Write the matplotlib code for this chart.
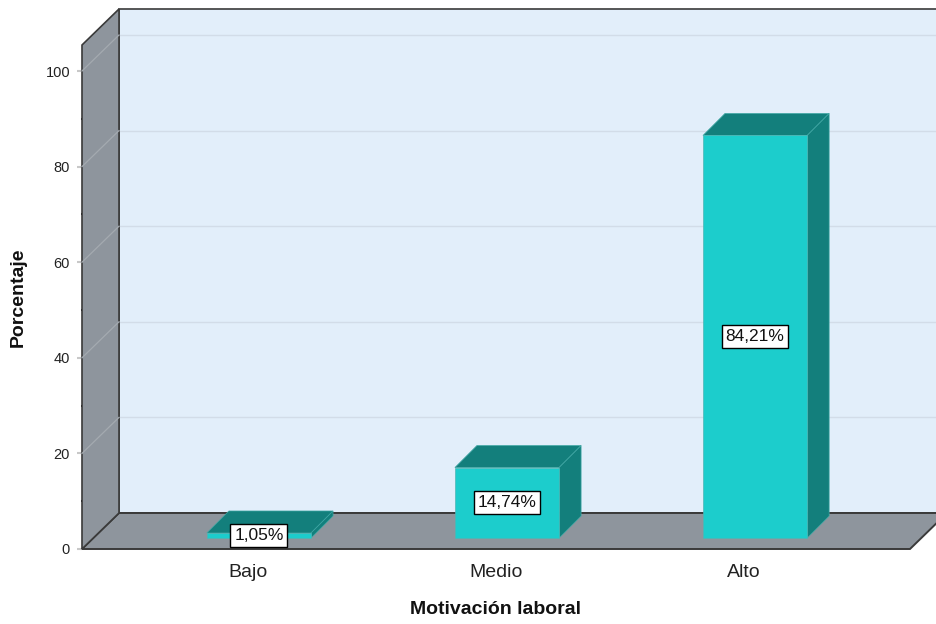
import matplotlib
matplotlib.use("Agg")
import matplotlib.pyplot as plt
from matplotlib.patches import Polygon

plt.rcParams["font.family"] = ["Liberation Sans", "DejaVu Sans"]

categories = ["Bajo", "Medio", "Alto"]
percentages = [1.05, 14.74, 84.21]
value_labels = ["1,05%", "14,74%", "84,21%"]
y_ticks = [0, 20, 40, 60, 80, 100]
minor_ticks = [10, 30, 50, 70, 90]

FRONT = "#1ccdcc"
DARK = "#137f7c"
WALL = "#8e959d"
BACK = "#e2eefa"
EDGE = "#3a3a3a"

W, H, DPI = 937, 624, 100
fig = plt.figure(figsize=(W / DPI, H / DPI), dpi=DPI)

# front plane of the box, in pixels
ax_left, ax_right, ax_bottom, ax_top = 82, 910, 549, 45
ax = fig.add_axes([ax_left / W, (H - ax_bottom) / H,
                   (ax_right - ax_left) / W, (ax_bottom - ax_top) / H])
xmin, xmax = -0.669, 2.669
ymax = 105.44
ax.set_xlim(xmin, xmax)
ax.set_ylim(0, ymax)
for s in ax.spines.values():
    s.set_visible(False)
ax.patch.set_visible(False)

# pixel -> data scale, for the oblique depth
px = (xmax - xmin) / (ax_right - ax_left)
py = ymax / (ax_bottom - ax_top)
depth_x, depth_y = 37 * px, 36 * py


def poly(pts, fc, ec=EDGE, lw=1.0, z=1):
    ax.add_patch(Polygon(pts, closed=True, facecolor=fc, edgecolor=ec,
                         linewidth=lw, zorder=z, clip_on=False))


# back wall
bx0, bx1 = xmin + depth_x, xmax + depth_x
poly([(bx0, depth_y), (bx1, depth_y), (bx1, ymax + depth_y), (bx0, ymax + depth_y)],
     BACK, lw=1.2, z=1)
for v in y_ticks[1:]:
    ax.plot([bx0, bx1], [v + depth_y] * 2, color="#d2dce8", lw=1.0, zorder=2,
            clip_on=False)

# floor and left wall
poly([(xmin, 0), (xmax, 0), (xmax + depth_x, depth_y), (xmin + depth_x, depth_y)],
     WALL, lw=1.4, z=3)
poly([(xmin, 0), (xmin + depth_x, depth_y), (xmin + depth_x, ymax + depth_y), (xmin, ymax)],
     WALL, lw=1.2, z=3)
for v in y_ticks[1:]:
    ax.plot([xmin, xmin + depth_x], [v, v + depth_y], color="#a4aab0", lw=0.9,
            zorder=4, clip_on=False)

# bars
bar_w = 0.42
d0x, d0y = 11 * px, 11 * py
d1x, d1y = 33 * px, 33 * py
for i, v in enumerate(percentages):
    x0 = i - bar_w / 2 + d0x
    x1 = i + bar_w / 2 + d0x
    y0, y1 = d0y, v + d0y
    sx, sy = d1x - d0x, d1y - d0y
    poly([(x0, y1), (x1, y1), (x1 + sx, y1 + sy), (x0 + sx, y1 + sy)],
         DARK, ec="#3fa7a4", lw=0.5, z=5)
    poly([(x1, y0), (x1 + sx, y0 + sy), (x1 + sx, y1 + sy), (x1, y1)],
         DARK, ec="#3fa7a4", lw=0.5, z=5)
    poly([(x0, y0), (x1, y0), (x1, y1), (x0, y1)],
         FRONT, ec="#4fb6b5", lw=0.5, z=6)
    ax.text(i + d0x, v / 2 + d0y, value_labels[i], ha="center", va="center",
            fontsize=12.5, color="#111111", zorder=7,
            bbox=dict(boxstyle="square,pad=0.22", fc="white", ec="black", lw=1.0))

# axes ticks
ax.set_xticks(range(len(categories)))
ax.set_xticklabels(categories, fontsize=14, color="#222222")
ax.tick_params(axis="x", length=0, pad=11)
ax.set_yticks(y_ticks)
ax.set_yticklabels([str(t) for t in y_ticks], fontsize=10.5, color="#222222")
ax.set_yticks(minor_ticks, minor=True)
ax.tick_params(axis="y", which="major", length=3.6, width=1.5, color="#c8c8c8",
               direction="out", pad=5)
ax.tick_params(axis="y", which="minor", length=1.5, width=1.5, color="black",
               direction="inout")

fig.text(495.5 / W, 1 - 609 / H, "Motivación laboral", ha="center", va="center",
         fontsize=14, fontweight="bold", color="#111111")
fig.text(18 / W, 1 - 297 / H, "Porcentaje", ha="center", va="center",
         rotation=90, fontsize=14, fontweight="bold", color="#111111")

fig.savefig("out.png", dpi=DPI)
